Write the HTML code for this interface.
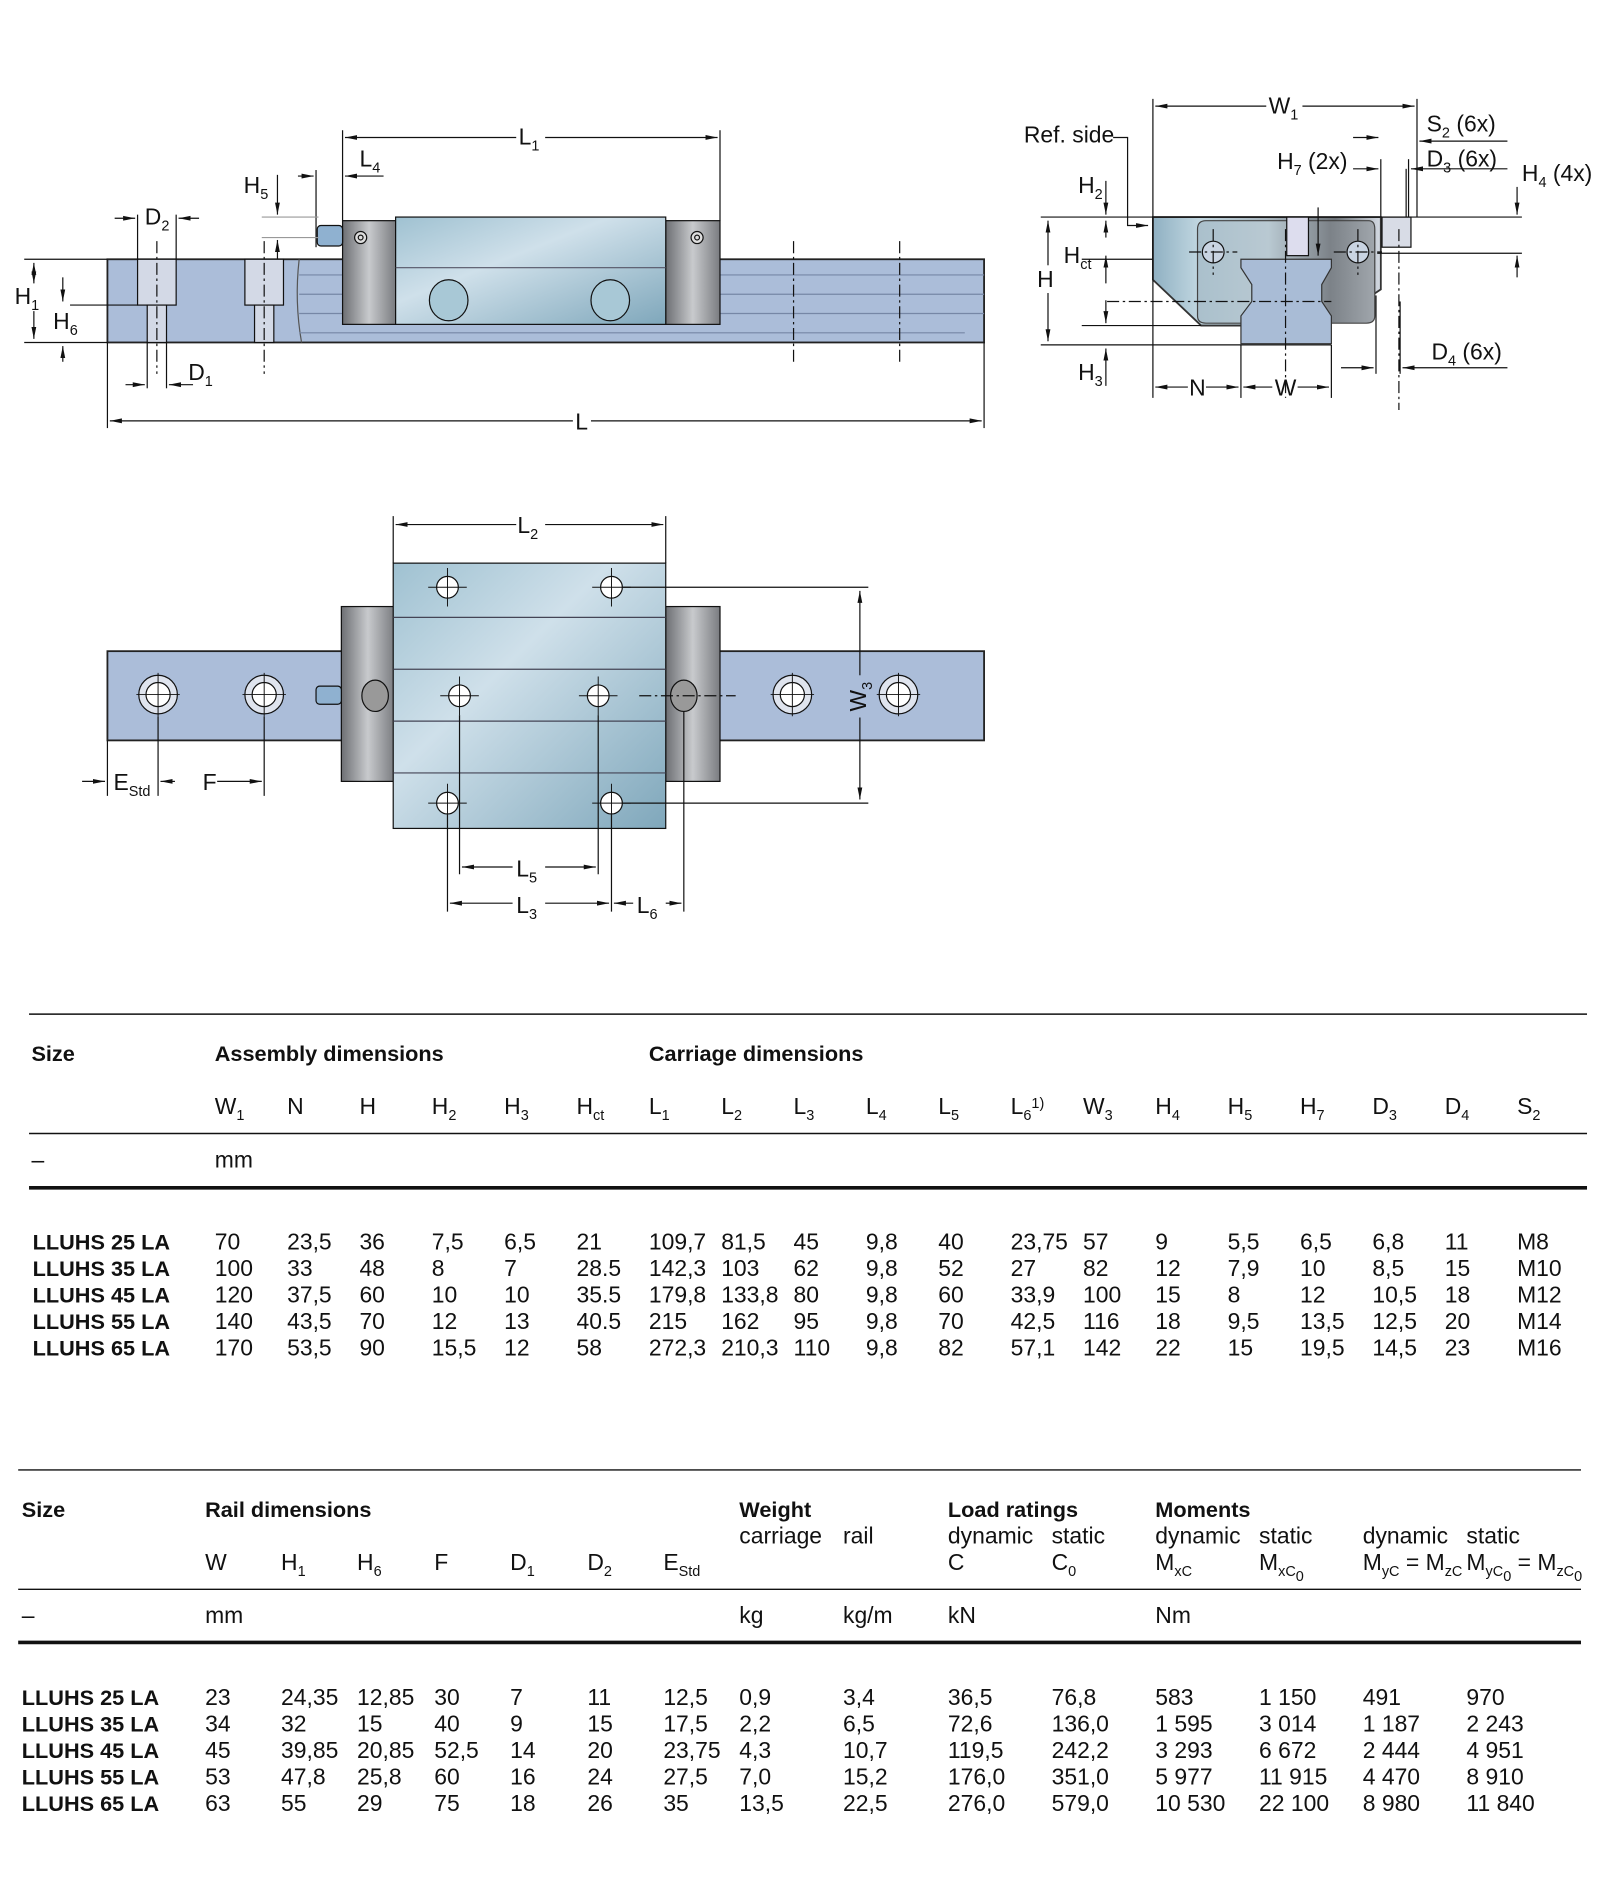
<!DOCTYPE html>
<html><head><meta charset="utf-8"><style>
html,body{margin:0;padding:0;background:#fff}
svg{display:block}
text{font-family:"Liberation Sans",sans-serif;fill:#111}
.t{font-size:19px}
.b{font-size:18px;font-weight:bold}
.s{font-size:12px}
.d{font-size:19px;fill:#222}
</style></head><body>
<svg width="1604" height="1892" viewBox="0 0 1330 1569" xmlns="http://www.w3.org/2000/svg">
<defs>
<linearGradient id="body" x1="0" y1="0" x2="1" y2="1">
<stop offset="0" stop-color="#9fc1d1"/><stop offset="0.4" stop-color="#cfe0ea"/><stop offset="1" stop-color="#7fa7bb"/></linearGradient>
<linearGradient id="cap" x1="0" y1="0" x2="1" y2="0">
<stop offset="0" stop-color="#6d6f73"/><stop offset="0.5" stop-color="#c8cacd"/><stop offset="1" stop-color="#7a7c80"/></linearGradient>
<linearGradient id="end" x1="0" y1="0" x2="1" y2="0">
<stop offset="0" stop-color="#8fb0c2"/><stop offset="0.2" stop-color="#c0d6e0"/><stop offset="0.5" stop-color="#a8b6bf"/><stop offset="0.8" stop-color="#6c7278"/><stop offset="1" stop-color="#d5dbe4"/></linearGradient>
<linearGradient id="inner" x1="0" y1="0" x2="1" y2="0">
<stop offset="0" stop-color="#aac0cc"/><stop offset="0.4" stop-color="#b9c9d2"/><stop offset="0.75" stop-color="#7c8288"/><stop offset="1" stop-color="#a0a6ac"/></linearGradient>
<marker id="a" viewBox="0 0 10 6" refX="10" refY="3" markerWidth="10" markerHeight="6" orient="auto-start-reverse"><path d="M0,1 L10,3 L0,5z" fill="#111"/></marker>
</defs>
<g stroke="#111" stroke-width="1" fill="none">
<!-- side view -->
<rect x="89" y="215" width="727" height="69" fill="#abbdd9" stroke="#222" stroke-width="1.5"/>
<rect x="114" y="215" width="32" height="38" fill="#d3d9e6"/><rect x="122" y="253" width="16" height="31" fill="#d3d9e6"/>
<rect x="203" y="215" width="32" height="38" fill="#d3d9e6"/><rect x="211" y="253" width="16" height="31" fill="#d3d9e6"/>
<path d="M248 215 Q244 250 250 284" stroke="#555"/>
<g stroke="#7687a6"><line x1="248" y1="228" x2="816" y2="228"/><line x1="248" y1="244" x2="816" y2="244"/><line x1="248" y1="260" x2="816" y2="260"/><line x1="248" y1="276" x2="800" y2="276"/></g>
<rect x="284" y="183" width="44" height="86" fill="url(#cap)"/>
<rect x="552" y="183" width="45" height="86" fill="url(#cap)"/>
<rect x="328" y="180" width="224" height="89" fill="url(#body)"/>
<line x1="328" y1="222" x2="552" y2="222" stroke="#556"/>
<ellipse cx="372" cy="249" rx="16" ry="17" fill="#a8c8d6"/><ellipse cx="506" cy="249" rx="16" ry="17" fill="#a8c8d6"/>
<circle cx="299" cy="197" r="5" fill="#ddd"/><circle cx="299" cy="197" r="2"/><circle cx="578" cy="197" r="5" fill="#ddd"/><circle cx="578" cy="197" r="2"/>
<rect x="263" y="187" width="21" height="17" rx="3" fill="#8fb1d0"/>
<line x1="89" y1="215" x2="20" y2="215"/><line x1="89" y1="284" x2="20" y2="284"/>
<line x1="28" y1="218" x2="28" y2="235" marker-end="url(#a)" marker-start="url(#a)"/>
<line x1="28" y1="258" x2="28" y2="281" marker-end="url(#a)"/>
<line x1="58" y1="253" x2="114" y2="253"/>
<line x1="52" y1="230" x2="52" y2="250" marker-end="url(#a)"/><line x1="52" y1="300" x2="52" y2="287" marker-end="url(#a)"/>
<line x1="114" y1="178" x2="114" y2="215"/><line x1="146" y1="178" x2="146" y2="215"/>
<line x1="95" y1="181" x2="112" y2="181" marker-end="url(#a)"/><line x1="165" y1="181" x2="148" y2="181" marker-end="url(#a)"/>
<line x1="122" y1="284" x2="122" y2="322"/><line x1="138" y1="284" x2="138" y2="322"/>
<line x1="104" y1="319" x2="120" y2="319" marker-end="url(#a)"/><line x1="160" y1="319" x2="140" y2="319" marker-end="url(#a)"/>
<g stroke-dasharray="10,3,2,3"><line x1="130" y1="200" x2="130" y2="310"/><line x1="219" y1="200" x2="219" y2="310"/><line x1="658" y1="200" x2="658" y2="300"/><line x1="746" y1="200" x2="746" y2="300"/></g>
<line x1="89" y1="284" x2="89" y2="355"/><line x1="816" y1="284" x2="816" y2="355"/>
<line x1="91" y1="349" x2="475" y2="349" marker-start="url(#a)"/><line x1="490" y1="349" x2="814" y2="349" marker-end="url(#a)"/>
<line x1="284" y1="108" x2="284" y2="183"/><line x1="597" y1="108" x2="597" y2="183"/>
<line x1="286" y1="114" x2="428" y2="114" marker-start="url(#a)"/><line x1="452" y1="114" x2="595" y2="114" marker-end="url(#a)"/>
<line x1="318" y1="146" x2="286" y2="146" marker-end="url(#a)"/>
<line x1="262" y1="141" x2="262" y2="205"/><line x1="247" y1="146" x2="260" y2="146" marker-end="url(#a)"/>
<line x1="217" y1="180" x2="264" y2="180" stroke="#999"/><line x1="217" y1="197" x2="264" y2="197" stroke="#999"/>
<line x1="230" y1="145" x2="230" y2="178" marker-end="url(#a)"/><line x1="230" y1="215" x2="230" y2="199" marker-end="url(#a)"/>
<!-- end view -->
<path d="M956 180 L1145 180 L1145 240 L1100 270 L996 270 L956 232 Z" fill="url(#end)" stroke="#333" stroke-width="1.5"/>
<path d="M1000 183 L1135 183 Q1140 183 1140 190 L1140 262 Q1140 268 1133 268 L1000 268 Q993 268 993 262 L993 190 Q993 183 1000 183 Z" fill="url(#inner)" stroke="#444"/>
<path d="M1029 215 L1104 215 L1104 222 L1096 236 L1096 250 L1104 262 L1104 285 L1029 285 L1029 262 L1038 250 L1038 236 L1029 222 Z" fill="#a9bcd6" stroke="#333"/>
<rect x="1146" y="180" width="24" height="25" fill="#d8dce6"/>
<rect x="1067" y="180" width="18" height="32" fill="#dde"/>
<circle cx="1006" cy="209" r="9" fill="#c9d4e2"/><circle cx="1126" cy="209" r="9" fill="#c9d4e2"/>
<g stroke-dasharray="10,3,2,3"><line x1="1066" y1="190" x2="1066" y2="330"/><line x1="1160" y1="190" x2="1160" y2="340"/><line x1="986" y1="209" x2="1026" y2="209"/><line x1="1106" y1="209" x2="1146" y2="209"/><line x1="1006" y1="190" x2="1006" y2="228"/><line x1="1126" y1="190" x2="1126" y2="228"/><line x1="918" y1="250" x2="1104" y2="250"/></g>
<line x1="956" y1="82" x2="956" y2="330"/><line x1="1175" y1="82" x2="1175" y2="180"/>
<line x1="958" y1="88" x2="1050" y2="88" marker-start="url(#a)"/><line x1="1080" y1="88" x2="1173" y2="88" marker-end="url(#a)"/>
<line x1="863" y1="180" x2="1262" y2="180"/><line x1="863" y1="286" x2="1104" y2="286"/>
<line x1="1142" y1="210" x2="1262" y2="210"/>
<line x1="869" y1="183" x2="869" y2="220" marker-start="url(#a)"/><line x1="869" y1="243" x2="869" y2="283" marker-end="url(#a)"/>
<line x1="917" y1="150" x2="917" y2="178" marker-end="url(#a)"/>
<line x1="897" y1="215" x2="956" y2="215"/><line x1="897" y1="270" x2="996" y2="270"/>
<line x1="917" y1="183" x2="917" y2="197" marker-start="url(#a)"/><line x1="917" y1="235" x2="917" y2="212" marker-end="url(#a)"/>
<line x1="917" y1="249" x2="917" y2="268" marker-end="url(#a)"/>
<line x1="917" y1="320" x2="917" y2="289" marker-end="url(#a)"/>
<path d="M923 114 L935 114 L935 187 L952 187" marker-end="url(#a)"/>
<line x1="1258" y1="155" x2="1258" y2="178" marker-end="url(#a)"/><line x1="1258" y1="230" x2="1258" y2="212" marker-end="url(#a)"/>
<line x1="1093" y1="172" x2="1093" y2="212" marker-end="url(#a)"/>
<line x1="1029" y1="286" x2="1029" y2="330"/><line x1="1104" y1="286" x2="1104" y2="330"/>
<line x1="958" y1="321" x2="985" y2="321" marker-start="url(#a)"/><line x1="1000" y1="321" x2="1027" y2="321" marker-end="url(#a)"/>
<line x1="1031" y1="321" x2="1055" y2="321" marker-start="url(#a)"/><line x1="1076" y1="321" x2="1102" y2="321" marker-end="url(#a)"/>
<line x1="1145" y1="132" x2="1145" y2="180"/><line x1="1168" y1="132" x2="1168" y2="180"/><line x1="1166" y1="140" x2="1166" y2="180"/>
<line x1="1122" y1="140" x2="1143" y2="140" marker-end="url(#a)"/><line x1="1250" y1="140" x2="1170" y2="140" marker-end="url(#a)"/>
<line x1="1122" y1="114" x2="1143" y2="114" marker-end="url(#a)"/><line x1="1250" y1="117" x2="1177" y2="117" marker-end="url(#a)"/>
<line x1="1141" y1="245" x2="1141" y2="310"/><line x1="1112" y1="305" x2="1139" y2="305" marker-end="url(#a)"/>
<line x1="1250" y1="305" x2="1163" y2="305" marker-end="url(#a)"/><line x1="1161" y1="250" x2="1161" y2="310"/>
<!-- top view -->
<rect x="89" y="540" width="727" height="74" fill="#abbdd9" stroke="#222" stroke-width="1.5"/>
<rect x="283" y="503" width="44" height="145" fill="url(#cap)"/>
<rect x="552" y="503" width="45" height="145" fill="url(#cap)"/>
<rect x="326" y="467" width="226" height="220" fill="url(#body)"/>
<g stroke="#445"><line x1="326" y1="512" x2="552" y2="512"/><line x1="326" y1="555" x2="552" y2="555"/><line x1="326" y1="598" x2="552" y2="598"/><line x1="326" y1="641" x2="552" y2="641"/></g>
<g fill="#dfe4ee"><circle cx="131" cy="576" r="16"/><circle cx="219" cy="576" r="16"/><circle cx="657" cy="576" r="16"/><circle cx="745" cy="576" r="16"/></g>
<g fill="#fff"><circle cx="131" cy="576" r="10"/><circle cx="219" cy="576" r="10"/><circle cx="657" cy="576" r="10"/><circle cx="745" cy="576" r="10"/>
<circle cx="371" cy="487" r="9"/><circle cx="507" cy="487" r="9"/><circle cx="381" cy="577" r="9"/><circle cx="496" cy="577" r="9"/><circle cx="371" cy="666" r="9"/><circle cx="507" cy="666" r="9"/></g>
<ellipse cx="311" cy="577" rx="11" ry="13" fill="#999"/><ellipse cx="567" cy="577" rx="11" ry="13" fill="#999"/>
<rect x="262" y="569" width="21" height="15" rx="3" fill="#8fb1d0"/>
<g stroke-width="0.8"><path d="M113 576h36M131 558v36M201 576h36M219 558v36M639 576h36M657 558v36M727 576h36M745 558v36M355 487h32M371 471v32M491 487h32M507 471v32M365 577h32M381 561v32M480 577h32M496 561v32M355 666h32M371 650v32M491 666h32M507 650v32"/></g>
<line x1="530" y1="577" x2="610" y2="577" stroke-dasharray="10,3,2,3"/>
<line x1="326" y1="428" x2="326" y2="467"/><line x1="552" y1="428" x2="552" y2="467"/>
<line x1="328" y1="435" x2="428" y2="435" marker-start="url(#a)"/><line x1="452" y1="435" x2="550" y2="435" marker-end="url(#a)"/>
<line x1="516" y1="487" x2="720" y2="487"/><line x1="516" y1="666" x2="720" y2="666"/>
<line x1="713" y1="490" x2="713" y2="560" marker-start="url(#a)"/><line x1="713" y1="595" x2="713" y2="663" marker-end="url(#a)"/>
<line x1="89" y1="614" x2="89" y2="660"/><line x1="131" y1="594" x2="131" y2="660"/><line x1="219" y1="594" x2="219" y2="660"/>
<line x1="68" y1="648" x2="87" y2="648" marker-end="url(#a)"/><line x1="145" y1="648" x2="133" y2="648" marker-end="url(#a)"/>
<line x1="180" y1="648" x2="217" y2="648" marker-end="url(#a)"/>
<line x1="371" y1="675" x2="371" y2="756"/><line x1="381" y1="593" x2="381" y2="725"/><line x1="496" y1="593" x2="496" y2="725"/><line x1="507" y1="675" x2="507" y2="756"/><line x1="567" y1="590" x2="567" y2="756"/>
<line x1="383" y1="719" x2="425" y2="719" marker-start="url(#a)"/><line x1="452" y1="719" x2="494" y2="719" marker-end="url(#a)"/>
<line x1="373" y1="749" x2="425" y2="749" marker-start="url(#a)"/><line x1="452" y1="749" x2="505" y2="749" marker-end="url(#a)"/>
<line x1="509" y1="749" x2="525" y2="749" marker-start="url(#a)"/><line x1="552" y1="749" x2="565" y2="749" marker-end="url(#a)"/>
<!-- tables lines -->
<line x1="24" y1="841" x2="1316" y2="841" stroke-width="1.2"/>
<line x1="24" y1="940" x2="1316" y2="940" stroke-width="1.2"/>
<line x1="24" y1="985" x2="1316" y2="985" stroke-width="3"/>
<line x1="15" y1="1219" x2="1311" y2="1219" stroke-width="1.2"/>
<line x1="15" y1="1318" x2="1311" y2="1318" stroke-width="1.2"/>
<line x1="15" y1="1362" x2="1311" y2="1362" stroke-width="3"/>
</g>
<g class="t">
<text x="12" y="252" class="t">H<tspan class="s" dy="5">1</tspan></text>
<text x="44" y="273" class="t">H<tspan class="s" dy="5">6</tspan></text>
<text x="120" y="186" class="t">D<tspan class="s" dy="5">2</tspan></text>
<text x="156" y="315" class="t">D<tspan class="s" dy="5">1</tspan></text>
<text x="202" y="160" class="t">H<tspan class="s" dy="5">5</tspan></text>
<text x="298" y="138" class="t">L<tspan class="s" dy="5">4</tspan></text>
<text x="430" y="120" class="t">L<tspan class="s" dy="5">1</tspan></text>
<text x="477" y="356" class="t">L</text>
<text x="849" y="118" class="t">Ref. side</text>
<text x="1052" y="94" class="t">W<tspan class="s" dy="5">1</tspan></text>
<text x="1183" y="109" class="t">S<tspan class="s" dy="5">2</tspan><tspan dy="-5"> (6x)</tspan></text>
<text x="1183" y="138" class="t">D<tspan class="s" dy="5">3</tspan><tspan dy="-5"> (6x)</tspan></text>
<text x="1059" y="140" class="t">H<tspan class="s" dy="5">7</tspan><tspan dy="-5"> (2x)</tspan></text>
<text x="1262" y="150" class="t">H<tspan class="s" dy="5">4</tspan><tspan dy="-5"> (4x)</tspan></text>
<text x="894" y="160" class="t">H<tspan class="s" dy="5">2</tspan></text>
<text x="882" y="218" class="t">H<tspan class="s" dy="5">ct</tspan></text>
<text x="860" y="238" class="t">H</text>
<text x="894" y="315" class="t">H<tspan class="s" dy="5">3</tspan></text>
<text x="1187" y="298" class="t">D<tspan class="s" dy="5">4</tspan><tspan dy="-5"> (6x)</tspan></text>
<text x="986" y="328" class="t">N</text>
<text x="1057" y="328" class="t">W</text>
<text x="429" y="442" class="t">L<tspan class="s" dy="5">2</tspan></text>
<text x="94" y="655" class="t">E<tspan class="s" dy="5">Std</tspan></text>
<text x="168" y="655" class="t">F</text>
<text x="428" y="727" class="t">L<tspan class="s" dy="5">5</tspan></text>
<text x="428" y="757" class="t">L<tspan class="s" dy="5">3</tspan></text>
<text x="528" y="757" class="t">L<tspan class="s" dy="5">6</tspan></text>
<text transform="translate(718,590) rotate(-90)" class="t">W<tspan class="s" dy="5">3</tspan></text>
</g>
<!-- Table 1 -->
<text x="26" y="880" class="b">Size</text>
<text x="178" y="880" class="b">Assembly dimensions</text>
<text x="538" y="880" class="b">Carriage dimensions</text>
<g class="t">
<text x="178" y="924">W<tspan class="s" dy="5">1</tspan></text><text x="238" y="924">N</text><text x="298" y="924">H</text>
<text x="358" y="924">H<tspan class="s" dy="5">2</tspan></text><text x="418" y="924">H<tspan class="s" dy="5">3</tspan></text><text x="478" y="924">H<tspan class="s" dy="5">ct</tspan></text>
<text x="538" y="924">L<tspan class="s" dy="5">1</tspan></text><text x="598" y="924">L<tspan class="s" dy="5">2</tspan></text><text x="658" y="924">L<tspan class="s" dy="5">3</tspan></text>
<text x="718" y="924">L<tspan class="s" dy="5">4</tspan></text><text x="778" y="924">L<tspan class="s" dy="5">5</tspan></text><text x="838" y="924">L<tspan class="s" dy="5">6</tspan><tspan class="s" dy="-10">1)</tspan></text>
<text x="898" y="924">W<tspan class="s" dy="5">3</tspan></text><text x="958" y="924">H<tspan class="s" dy="5">4</tspan></text><text x="1018" y="924">H<tspan class="s" dy="5">5</tspan></text>
<text x="1078" y="924">H<tspan class="s" dy="5">7</tspan></text><text x="1138" y="924">D<tspan class="s" dy="5">3</tspan></text><text x="1198" y="924">D<tspan class="s" dy="5">4</tspan></text><text x="1258" y="924">S<tspan class="s" dy="5">2</tspan></text>
<text x="26" y="968">–</text><text x="178" y="968">mm</text>
</g>
<g class="d">
<text y="1036"><tspan x="178">70</tspan><tspan x="238">23,5</tspan><tspan x="298">36</tspan><tspan x="358">7,5</tspan><tspan x="418">6,5</tspan><tspan x="478">21</tspan><tspan x="538">109,7</tspan><tspan x="598">81,5</tspan><tspan x="658">45</tspan><tspan x="718">9,8</tspan><tspan x="778">40</tspan><tspan x="838">23,75</tspan><tspan x="898">57</tspan><tspan x="958">9</tspan><tspan x="1018">5,5</tspan><tspan x="1078">6,5</tspan><tspan x="1138">6,8</tspan><tspan x="1198">11</tspan><tspan x="1258">M8</tspan></text>
<text y="1058"><tspan x="178">100</tspan><tspan x="238">33</tspan><tspan x="298">48</tspan><tspan x="358">8</tspan><tspan x="418">7</tspan><tspan x="478">28.5</tspan><tspan x="538">142,3</tspan><tspan x="598">103</tspan><tspan x="658">62</tspan><tspan x="718">9,8</tspan><tspan x="778">52</tspan><tspan x="838">27</tspan><tspan x="898">82</tspan><tspan x="958">12</tspan><tspan x="1018">7,9</tspan><tspan x="1078">10</tspan><tspan x="1138">8,5</tspan><tspan x="1198">15</tspan><tspan x="1258">M10</tspan></text>
<text y="1080"><tspan x="178">120</tspan><tspan x="238">37,5</tspan><tspan x="298">60</tspan><tspan x="358">10</tspan><tspan x="418">10</tspan><tspan x="478">35.5</tspan><tspan x="538">179,8</tspan><tspan x="598">133,8</tspan><tspan x="658">80</tspan><tspan x="718">9,8</tspan><tspan x="778">60</tspan><tspan x="838">33,9</tspan><tspan x="898">100</tspan><tspan x="958">15</tspan><tspan x="1018">8</tspan><tspan x="1078">12</tspan><tspan x="1138">10,5</tspan><tspan x="1198">18</tspan><tspan x="1258">M12</tspan></text>
<text y="1102"><tspan x="178">140</tspan><tspan x="238">43,5</tspan><tspan x="298">70</tspan><tspan x="358">12</tspan><tspan x="418">13</tspan><tspan x="478">40.5</tspan><tspan x="538">215</tspan><tspan x="598">162</tspan><tspan x="658">95</tspan><tspan x="718">9,8</tspan><tspan x="778">70</tspan><tspan x="838">42,5</tspan><tspan x="898">116</tspan><tspan x="958">18</tspan><tspan x="1018">9,5</tspan><tspan x="1078">13,5</tspan><tspan x="1138">12,5</tspan><tspan x="1198">20</tspan><tspan x="1258">M14</tspan></text>
<text y="1124"><tspan x="178">170</tspan><tspan x="238">53,5</tspan><tspan x="298">90</tspan><tspan x="358">15,5</tspan><tspan x="418">12</tspan><tspan x="478">58</tspan><tspan x="538">272,3</tspan><tspan x="598">210,3</tspan><tspan x="658">110</tspan><tspan x="718">9,8</tspan><tspan x="778">82</tspan><tspan x="838">57,1</tspan><tspan x="898">142</tspan><tspan x="958">22</tspan><tspan x="1018">15</tspan><tspan x="1078">19,5</tspan><tspan x="1138">14,5</tspan><tspan x="1198">23</tspan><tspan x="1258">M16</tspan></text>
</g>
<g class="b"><text x="27" y="1036">LLUHS 25 LA</text><text x="27" y="1058">LLUHS 35 LA</text><text x="27" y="1080">LLUHS 45 LA</text><text x="27" y="1102">LLUHS 55 LA</text><text x="27" y="1124">LLUHS 65 LA</text></g>
<!-- Table 2 -->
<text x="18" y="1258" class="b">Size</text>
<text x="170" y="1258" class="b">Rail dimensions</text>
<text x="613" y="1258" class="b">Weight</text>
<text x="786" y="1258" class="b">Load ratings</text>
<text x="958" y="1258" class="b">Moments</text>
<g class="t">
<text x="613" y="1280">carriage</text><text x="699" y="1280">rail</text>
<text x="786" y="1280">dynamic</text><text x="872" y="1280">static</text>
<text x="958" y="1280">dynamic</text><text x="1044" y="1280">static</text>
<text x="1130" y="1280">dynamic</text><text x="1216" y="1280">static</text>
<text x="170" y="1302">W</text><text x="233" y="1302">H<tspan class="s" dy="5">1</tspan></text><text x="296" y="1302">H<tspan class="s" dy="5">6</tspan></text>
<text x="360" y="1302">F</text><text x="423" y="1302">D<tspan class="s" dy="5">1</tspan></text><text x="487" y="1302">D<tspan class="s" dy="5">2</tspan></text>
<text x="550" y="1302">E<tspan class="s" dy="5">Std</tspan></text>
<text x="786" y="1302">C</text><text x="872" y="1302">C<tspan class="s" dy="5">0</tspan></text>
<text x="958" y="1302">M<tspan class="s" dy="5">xC</tspan></text><text x="1044" y="1302">M<tspan class="s" dy="5">xC</tspan><tspan class="s" dy="4">0</tspan></text>
<text x="1130" y="1302">M<tspan class="s" dy="5">yC</tspan><tspan dy="-5"> = M</tspan><tspan class="s" dy="5">zC</tspan></text>
<text x="1216" y="1302">M<tspan class="s" dy="5">yC</tspan><tspan class="s" dy="4">0</tspan><tspan dy="-9"> = M</tspan><tspan class="s" dy="5">zC</tspan><tspan class="s" dy="4">0</tspan></text>
<text x="18" y="1346">–</text><text x="170" y="1346">mm</text><text x="613" y="1346">kg</text><text x="699" y="1346">kg/m</text><text x="786" y="1346">kN</text><text x="958" y="1346">Nm</text>
</g>
<g class="d">
<text y="1414"><tspan x="170">23</tspan><tspan x="233">24,35</tspan><tspan x="296">12,85</tspan><tspan x="360">30</tspan><tspan x="423">7</tspan><tspan x="487">11</tspan><tspan x="550">12,5</tspan><tspan x="613">0,9</tspan><tspan x="699">3,4</tspan><tspan x="786">36,5</tspan><tspan x="872">76,8</tspan><tspan x="958">583</tspan><tspan x="1044">1 150</tspan><tspan x="1130">491</tspan><tspan x="1216">970</tspan></text>
<text y="1436"><tspan x="170">34</tspan><tspan x="233">32</tspan><tspan x="296">15</tspan><tspan x="360">40</tspan><tspan x="423">9</tspan><tspan x="487">15</tspan><tspan x="550">17,5</tspan><tspan x="613">2,2</tspan><tspan x="699">6,5</tspan><tspan x="786">72,6</tspan><tspan x="872">136,0</tspan><tspan x="958">1 595</tspan><tspan x="1044">3 014</tspan><tspan x="1130">1 187</tspan><tspan x="1216">2 243</tspan></text>
<text y="1458"><tspan x="170">45</tspan><tspan x="233">39,85</tspan><tspan x="296">20,85</tspan><tspan x="360">52,5</tspan><tspan x="423">14</tspan><tspan x="487">20</tspan><tspan x="550">23,75</tspan><tspan x="613">4,3</tspan><tspan x="699">10,7</tspan><tspan x="786">119,5</tspan><tspan x="872">242,2</tspan><tspan x="958">3 293</tspan><tspan x="1044">6 672</tspan><tspan x="1130">2 444</tspan><tspan x="1216">4 951</tspan></text>
<text y="1480"><tspan x="170">53</tspan><tspan x="233">47,8</tspan><tspan x="296">25,8</tspan><tspan x="360">60</tspan><tspan x="423">16</tspan><tspan x="487">24</tspan><tspan x="550">27,5</tspan><tspan x="613">7,0</tspan><tspan x="699">15,2</tspan><tspan x="786">176,0</tspan><tspan x="872">351,0</tspan><tspan x="958">5 977</tspan><tspan x="1044">11 915</tspan><tspan x="1130">4 470</tspan><tspan x="1216">8 910</tspan></text>
<text y="1502"><tspan x="170">63</tspan><tspan x="233">55</tspan><tspan x="296">29</tspan><tspan x="360">75</tspan><tspan x="423">18</tspan><tspan x="487">26</tspan><tspan x="550">35</tspan><tspan x="613">13,5</tspan><tspan x="699">22,5</tspan><tspan x="786">276,0</tspan><tspan x="872">579,0</tspan><tspan x="958">10 530</tspan><tspan x="1044">22 100</tspan><tspan x="1130">8 980</tspan><tspan x="1216">11 840</tspan></text>
</g>
<g class="b"><text x="18" y="1414">LLUHS 25 LA</text><text x="18" y="1436">LLUHS 35 LA</text><text x="18" y="1458">LLUHS 45 LA</text><text x="18" y="1480">LLUHS 55 LA</text><text x="18" y="1502">LLUHS 65 LA</text></g>
</svg>
</body></html>
